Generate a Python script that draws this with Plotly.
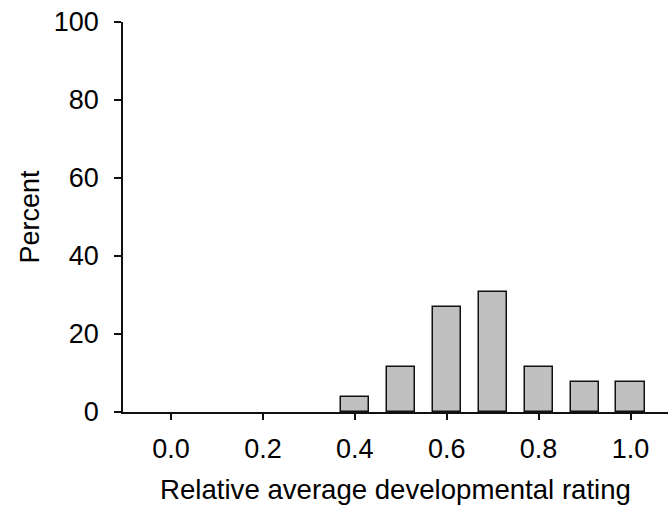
import plotly.graph_objects as go

categories = [0.4, 0.5, 0.6, 0.7, 0.8, 0.9, 1.0]
percent = [3.85, 11.54, 26.92, 30.77, 11.54, 7.69, 7.69]
x_ticks = [0.0, 0.2, 0.4, 0.6, 0.8, 1.0]
x_tick_labels = ["0.0", "0.2", "0.4", "0.6", "0.8", "1.0"]
y_ticks = [0, 20, 40, 60, 80, 100]

FONT = "Liberation Sans, Arial, sans-serif"

fig = go.Figure(go.Bar(
    x=categories, y=percent, width=0.061,
    marker=dict(color="#c0c0c0", line=dict(color="#111111", width=1.5)),
))

fig.update_layout(
    width=668, height=507,
    margin=dict(l=123, r=0, t=22, b=95),
    paper_bgcolor="white", plot_bgcolor="white",
    font=dict(family=FONT, size=27, color="#000000"),
    showlegend=False,
    bargap=0,
)
fig.update_xaxes(
    range=[-0.1045, 1.0816], tickvals=x_ticks, ticktext=x_tick_labels,
    showline=True, linecolor="#111111", linewidth=1.5,
    ticks="outside", ticklen=6, tickwidth=1.5, tickcolor="#111111",
    showgrid=False, zeroline=False,
    title=dict(text="Relative average developmental rating", standoff=17, font=dict(size=27.6)),
    automargin=False, ticklabelstandoff=6,
)
fig.update_yaxes(
    range=[0, 100], tickvals=y_ticks,
    showline=True, linecolor="#111111", linewidth=1.5,
    ticks="outside", ticklen=7, tickwidth=1.5, tickcolor="#111111",
    showgrid=False, zeroline=False,
    title=dict(text="Percent", standoff=6, font=dict(size=27)),
    automargin=False, ticklabelstandoff=10,
)

fig.write_html("out.html", config={"displayModeBar": False},
               post_script="document.body.style.margin='0';")
